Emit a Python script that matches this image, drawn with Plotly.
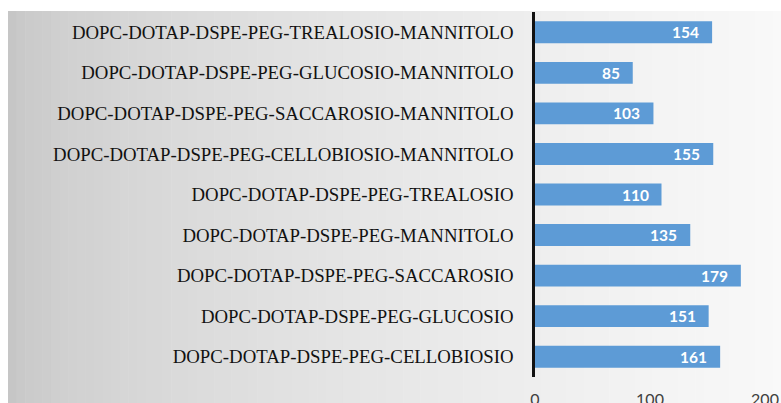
import plotly.graph_objects as go

# Formulations, listed top to bottom
formulations = [
    "DOPC-DOTAP-DSPE-PEG-TREALOSIO-MANNITOLO",
    "DOPC-DOTAP-DSPE-PEG-GLUCOSIO-MANNITOLO",
    "DOPC-DOTAP-DSPE-PEG-SACCAROSIO-MANNITOLO",
    "DOPC-DOTAP-DSPE-PEG-CELLOBIOSIO-MANNITOLO",
    "DOPC-DOTAP-DSPE-PEG-TREALOSIO",
    "DOPC-DOTAP-DSPE-PEG-MANNITOLO",
    "DOPC-DOTAP-DSPE-PEG-SACCAROSIO",
    "DOPC-DOTAP-DSPE-PEG-GLUCOSIO",
    "DOPC-DOTAP-DSPE-PEG-CELLOBIOSIO",
]
values = [154, 85, 103, 155, 110, 135, 179, 151, 161]
x_ticks = [0, 100, 200]

W, H = 781, 403
ML, MR, MT, MB = 535, 0, 12, 26
plot_w = W - ML - MR
x_max = plot_w / 1.15

fig = go.Figure()
fig.add_trace(go.Bar(
    y=formulations,
    x=values,
    orientation="h",
    marker=dict(color="#5d9bd6", line=dict(width=0)),
    width=0.54,
    hoverinfo="skip",
))

# value labels inside the bar ends
for name, v in zip(formulations, values):
    fig.add_annotation(
        x=v, y=name, xref="x", yref="y",
        text=f"<b>{v}</b>", showarrow=False,
        xanchor="right", xshift=-11,
        font=dict(family="Lato, Open Sans, sans-serif", size=15.5, color="white"),
    )

# grey-to-white background panel
n = 90
left_px, top_px = 8, 11
shapes = []
for i in range(n):
    x0 = left_px + (W - left_px) * i / n
    x1 = left_px + (W - left_px) * (i + 1) / n + 0.6
    t = i / (n - 1)
    g = int(198 + (249 - 198) * (t ** 0.6))
    shapes.append(dict(
        type="rect", xref="paper", yref="paper", layer="below",
        x0=(x0 - ML) / plot_w, x1=(x1 - ML) / plot_w,
        y0=(H - MB - H) / (H - MT - MB), y1=(H - MB - top_px) / (H - MT - MB),
        fillcolor=f"rgb({g},{g},{g})", line=dict(width=0),
    ))
fig.update_layout(shapes=shapes)

fig.update_layout(
    width=W, height=H,
    margin=dict(l=ML, r=MR, t=MT, b=MB, pad=0, autoexpand=False),
    paper_bgcolor="white",
    plot_bgcolor="rgba(0,0,0,0)",
    showlegend=False,
    bargap=0.46,
)
fig.update_xaxes(
    range=[0, x_max], tickvals=x_ticks, ticktext=[str(t) for t in x_ticks],
    showgrid=False, zeroline=False, showline=False, automargin=False,
    ticks="outside", ticklen=8, tickcolor="rgba(0,0,0,0)",
    tickfont=dict(family="Lato, Open Sans, sans-serif", size=16, color="#404040"),
)
fig.update_yaxes(
    autorange="reversed", showgrid=False, zeroline=False, automargin=False,
    showline=True, linecolor="#111111", linewidth=2.5,
    ticks="outside", ticklen=15, tickcolor="rgba(0,0,0,0)",
    tickfont=dict(family="Liberation Serif, Times New Roman, serif", size=18.8, color="#111111"),
)

fig.write_html("out.html")
